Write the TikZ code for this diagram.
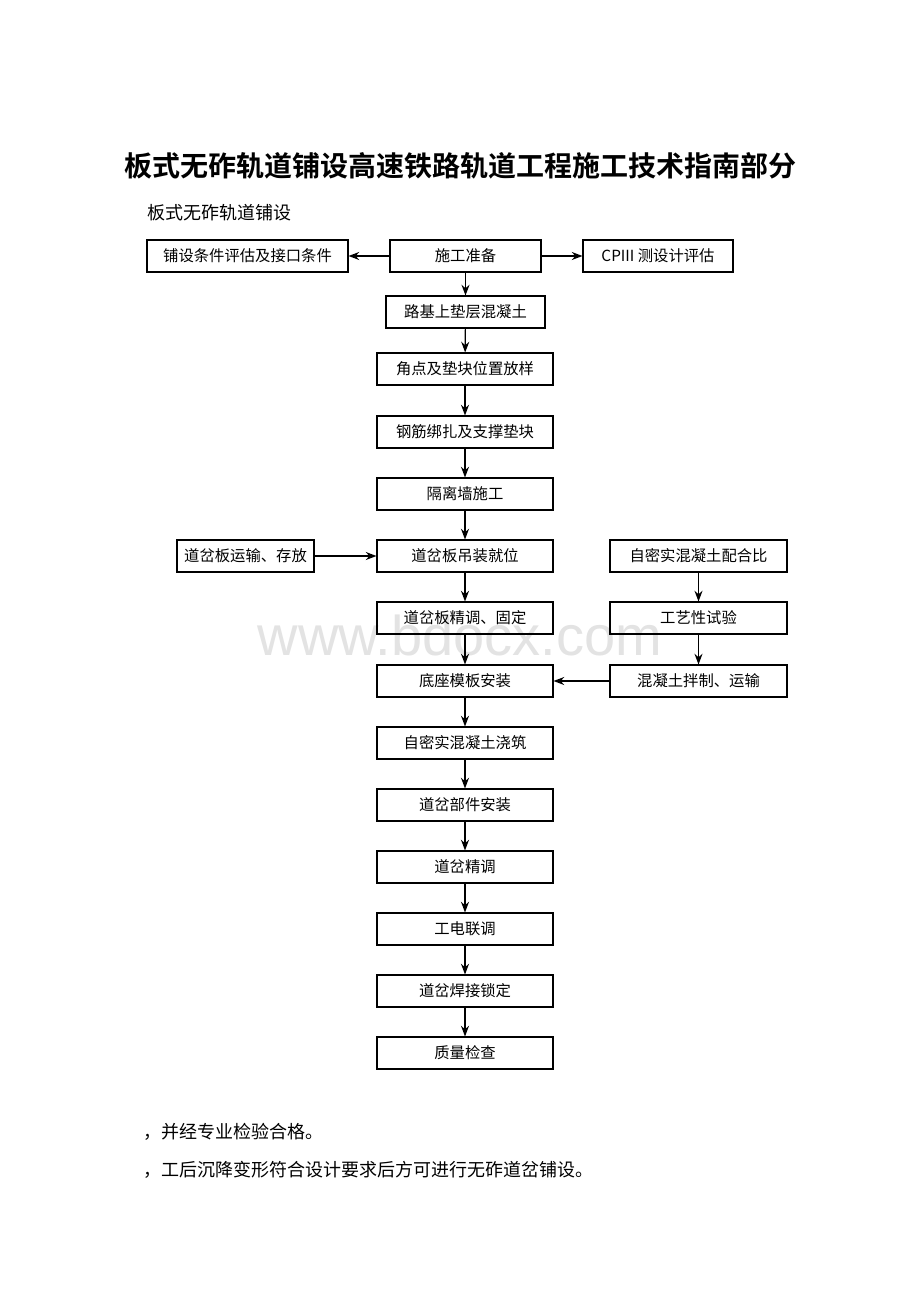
\documentclass[tikz,border=0pt]{standalone}
\usepackage{fontspec}
\setmainfont{Noto Sans CJK SC}[BoldFont={Noto Sans CJK SC Bold}]
\newfontfamily\wmfont{Liberation Sans}
\usetikzlibrary{arrows.meta}
\begin{document}
\begin{tikzpicture}[x=0.75pt,y=-0.75pt,
  box/.style={draw=black, line width=0.8pt, inner sep=0pt, minimum height=24pt, font=\fontsize{11.5}{13}\selectfont},
  mainbox/.style={box, minimum width=132pt},
  rbox/.style={box, minimum width=132.75pt},
  arr/.style={line width=0.9pt, -{Stealth[length=8pt,width=6pt]}}]
\useasboundingbox[fill=white] (0,0) rectangle (920,1302);
% watermark
\node[text=black!11, font=\wmfont\fontsize{42}{44}\selectfont] (wm) at (460,635) {www.bdocx.com};
% titles
\node[font=\bfseries\fontsize{21}{24}\selectfont] (title) at (460,166) {板式无砟轨道铺设高速铁路轨道工程施工技术指南部分};
\node[anchor=west, font=\fontsize{13.5}{15}\selectfont, inner sep=0pt] (sub) at (147,213) {板式无砟轨道铺设};
% row 1
\node[box, minimum width=150.75pt] (L) at (247.5,256) {铺设条件评估及接口条件};
\node[box, minimum width=113.25pt] (C) at (465.5,256) {施工准备};
\node[box, minimum width=112.5pt] (R) at (658,256) {CPIII 测设计评估};
% main column
\node[box, minimum width=119.25pt] (m2) at (465.5,312) {路基上垫层混凝土};
\node[mainbox] (m3) at (465,369) {角点及垫块位置放样};
\node[mainbox] (m4) at (465,432) {钢筋绑扎及支撑垫块};
\node[mainbox] (m5) at (465,494) {隔离墙施工};
\node[mainbox] (m6) at (465,556) {道岔板吊装就位};
\node[mainbox] (m7) at (465,618) {道岔板精调、固定};
\node[mainbox] (m8) at (465,681) {底座模板安装};
\node[mainbox] (m9) at (465,743) {自密实混凝土浇筑};
\node[mainbox] (m10) at (465,805) {道岔部件安装};
\node[mainbox] (m11) at (465,867) {道岔精调};
\node[mainbox] (m12) at (465,929) {工电联调};
\node[mainbox] (m13) at (465,991) {道岔焊接锁定};
\node[mainbox] (m14) at (465,1053) {质量检查};
% side boxes
\node[box, minimum width=102.75pt] (s1) at (245.5,556) {道岔板运输、存放};
\node[rbox] (r1) at (698.5,556) {自密实混凝土配合比};
\node[rbox] (r2) at (698.5,618) {工艺性试验};
\node[rbox] (r3) at (698.5,681) {混凝土拌制、运输};
% connectors
\draw[arr] (C) -- (L);
\draw[arr] (C) -- (R);
\draw[arr] (C.south) -- (m2.north);
\draw[arr] (m2) -- (m3);
\draw[arr] (m3) -- (m4);
\draw[arr] (m4) -- (m5);
\draw[arr] (m5) -- (m6);
\draw[arr] (m6) -- (m7);
\draw[arr] (m7) -- (m8);
\draw[arr] (m8) -- (m9);
\draw[arr] (m9) -- (m10);
\draw[arr] (m10) -- (m11);
\draw[arr] (m11) -- (m12);
\draw[arr] (m12) -- (m13);
\draw[arr] (m13) -- (m14);
\draw[arr] (s1) -- (m6);
\draw[arr] (r1) -- (r2);
\draw[arr] (r2) -- (r3);
\draw[arr] (r3) -- (m8);
% bottom text
\node[anchor=west, font=\fontsize{13.5}{15}\selectfont, inner sep=0pt] (t1) at (143,1132) {，并经专业检验合格。};
\node[anchor=west, font=\fontsize{13.5}{15}\selectfont, inner sep=0pt] (t2) at (143,1170) {，工后沉降变形符合设计要求后方可进行无砟道岔铺设。};
\end{tikzpicture}
\end{document}
